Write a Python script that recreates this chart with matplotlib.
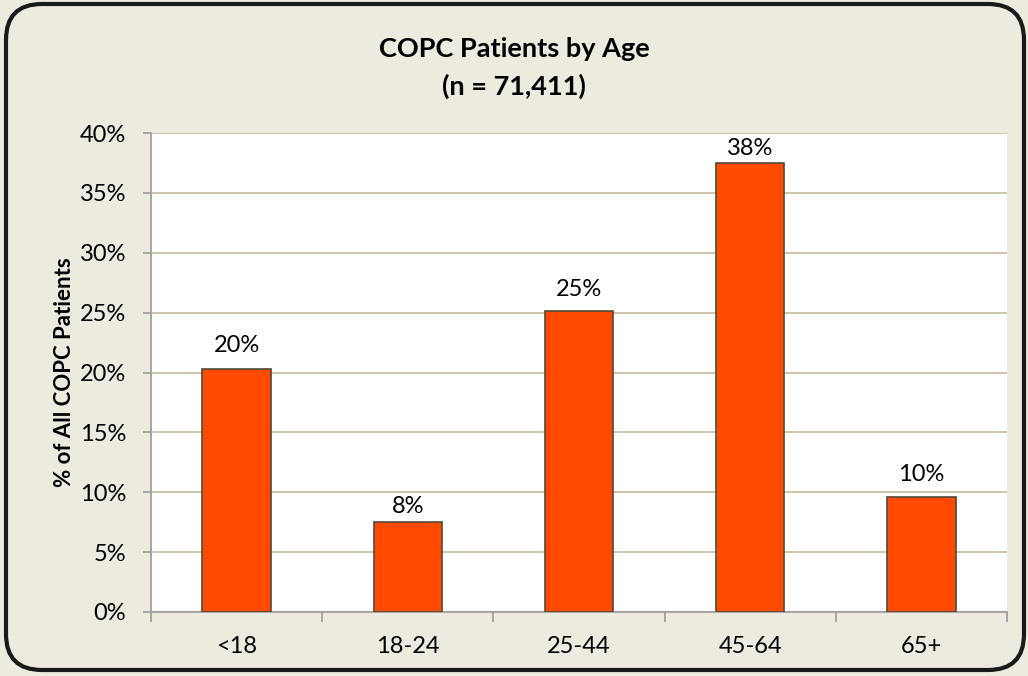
import matplotlib
matplotlib.use("Agg")
import matplotlib.pyplot as plt
from matplotlib.patches import FancyBboxPatch
from matplotlib.ticker import FuncFormatter, MultipleLocator, FixedLocator
import numpy as np

# Data
age_groups = ["<18", "18-24", "25-44", "45-64", "65+"]
pct_patients = [20.3, 7.55, 25.1, 37.5, 9.6]
bar_labels = ["20%", "8%", "25%", "38%", "10%"]

BG = "#EDEAE0"
BAR = "#FF4A00"
BAR_EDGE = "#4F4A3A"
GRID = "#C9C2A4"
SPINE = "#A0A0A0"

plt.rcParams["font.family"] = ["Lato", "DejaVu Sans"]

fig = plt.figure(figsize=(10.28, 6.76), dpi=100)
fig.patch.set_facecolor(BG)

# rounded outer border like the Excel chart frame
frame = FancyBboxPatch((6 / 1028, 6 / 676), (1028 - 10) / 1028, (676 - 10) / 676,
                       boxstyle="round,pad=0,rounding_size=0.035",
                       transform=fig.transFigure, fc=BG, ec="#1A1A1A", lw=3,
                       mutation_aspect=1028 / 676, zorder=-10)
fig.patches.append(frame)

ax = fig.add_axes([151 / 1028, 64 / 676, (1007 - 151) / 1028, (612 - 133) / 676])
ax.set_facecolor("white")

x = np.arange(len(age_groups))
bars = ax.bar(x, pct_patients, width=0.40, color=BAR, edgecolor=BAR_EDGE,
              linewidth=1.2, zorder=3)

# excel put the labels at slightly uneven heights
label_offsets = [9, 3, 8, 3, 9]
for xi, v, lab, off in zip(x, pct_patients, bar_labels, label_offsets):
    ax.annotate(lab, xy=(xi, v), xytext=(0, off), textcoords="offset points",
                ha="center", va="bottom", fontsize=17, color="black")

ax.set_xlim(-0.5, len(age_groups) - 0.5)
ax.set_ylim(0, 40)
ax.yaxis.set_major_locator(MultipleLocator(5))
ax.yaxis.set_major_formatter(FuncFormatter(lambda v, p: f"{v:.0f}%"))
ax.yaxis.grid(True, color=GRID, lw=1.3, zorder=0)
ax.set_axisbelow(True)

ax.set_xticks(x)
ax.set_xticklabels(age_groups)
ax.xaxis.set_minor_locator(FixedLocator(np.arange(-0.5, len(age_groups), 1.0)))
ax.tick_params(axis="x", which="major", length=0, pad=17, labelsize=17)
ax.tick_params(axis="x", which="minor", length=7, color=SPINE, width=1.3)
ax.tick_params(axis="y", length=6, color=SPINE, width=1.3, pad=12, labelsize=17)

for s in ("top", "right"):
    ax.spines[s].set_visible(False)
for s in ("left", "bottom"):
    ax.spines[s].set_color(SPINE)
    ax.spines[s].set_linewidth(1.3)

ax.set_ylabel("% of All COPC Patients", fontsize=16, fontweight="bold", labelpad=3)

fig.text(0.5, 0.927, "COPC Patients by Age", ha="center", va="center",
         fontsize=19.5, fontweight="bold")
fig.text(0.5, 0.873, "(n = 71,411)", ha="center", va="center",
         fontsize=19.5, fontweight="bold")

fig.savefig("out.png", dpi=100, facecolor=BG)
